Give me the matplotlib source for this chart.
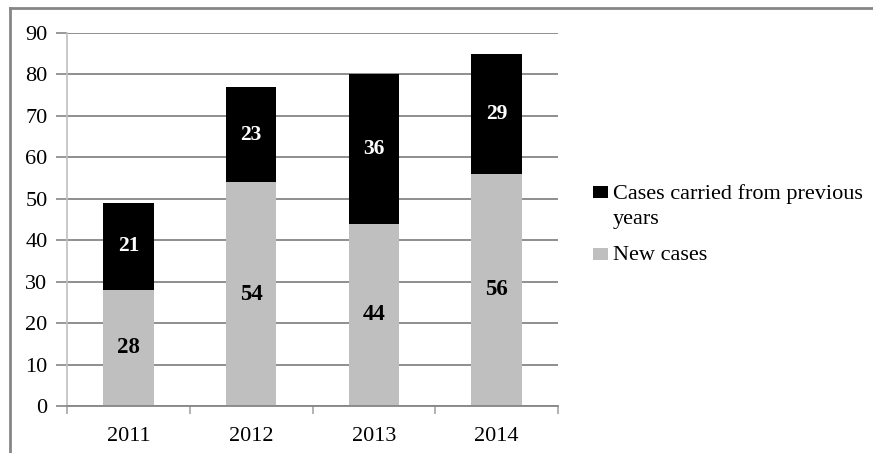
import matplotlib
matplotlib.use("Agg")
import matplotlib.pyplot as plt
from matplotlib.lines import Line2D
from matplotlib.patches import Rectangle
import numpy as np

years = ["2011", "2012", "2013", "2014"]
new_cases = [28, 54, 44, 56]
carried_cases = [21, 23, 36, 29]
yticks = [0, 10, 20, 30, 40, 50, 60, 70, 80, 90]
legend_labels = ["Cases carried from previous\nyears", "New cases"]

plt.rcParams["font.family"] = ["Liberation Serif", "DejaVu Serif"]

W, H = 873, 453
fig = plt.figure(figsize=(W / 100, H / 100), dpi=100)


def fx(px):
    return px / W


def fy(py):
    return 1 - py / H


# outer chart frame (left and top edges)
frame_c = "#868686"
fig.add_artist(Line2D([fx(10), fx(10)], [0, fy(8)], transform=fig.transFigure,
                      color=frame_c, lw=2))
fig.add_artist(Line2D([fx(10), 1], [fy(8), fy(8)], transform=fig.transFigure,
                      color=frame_c, lw=2))

left, right, top, bottom = 67, 558, 33, 406
ax = fig.add_axes([fx(left), fy(bottom), (right - left) / W, (bottom - top) / H])

x = np.arange(len(years))
bw = 0.41
gray = "#bfbfbf"
ax.bar(x, new_cases, bw, color=gray, zorder=3)
ax.bar(x, carried_cases, bw, bottom=new_cases, color="black", zorder=3)

for i in range(len(years)):
    ax.text(x[i], new_cases[i] / 2, str(new_cases[i]), ha="center", va="center",
            fontsize=16.5, fontweight="bold", color="black", zorder=4)
    ax.text(x[i], new_cases[i] + carried_cases[i] / 2, str(carried_cases[i]),
            ha="center", va="center", fontsize=15.5, fontweight="bold",
            color="white", zorder=4)

ax.set_xlim(-0.5, len(years) - 0.5)
ax.set_ylim(0, 90)
ax.set_yticks(yticks)
ax.set_yticklabels([str(v) for v in yticks], fontsize=16)
ax.yaxis.grid(True, color="#868686", lw=1.3, zorder=0)
ax.set_axisbelow(True)

ax.set_xticks(x)
ax.set_xticklabels(years, fontsize=16)
ax.set_xticks(np.arange(len(years) + 1) - 0.5, minor=True)
ax.tick_params(axis="x", which="major", length=0, pad=15)
ax.tick_params(axis="x", which="minor", length=6, color="#a6a6a6", width=1.2)
ax.tick_params(axis="y", length=8, color="#868686", width=1.2, pad=6)

for s in ["top", "right"]:
    ax.spines[s].set_visible(False)
ax.spines["left"].set_color("#bfbfbf")
ax.spines["left"].set_linewidth(1.2)
ax.spines["bottom"].set_color("#868686")
ax.spines["bottom"].set_linewidth(1.3)
ax.spines["bottom"].set_zorder(5)

# legend: square key aligned with the first text line of each entry
legend_colors = ["black", gray]
key_tops = [186, 248]
last_baselines = [224, 260]
for col, kt, bl, lab in zip(legend_colors, key_tops, last_baselines, legend_labels):
    fig.add_artist(Rectangle((fx(593), fy(kt + 12)), 15 / W, 12 / H,
                             transform=fig.transFigure, facecolor=col,
                             edgecolor="none"))
    fig.text(fx(613), fy(bl), lab, ha="left", va="baseline", fontsize=16,
             linespacing=1.42)

fig.savefig("out.png", dpi=100)
